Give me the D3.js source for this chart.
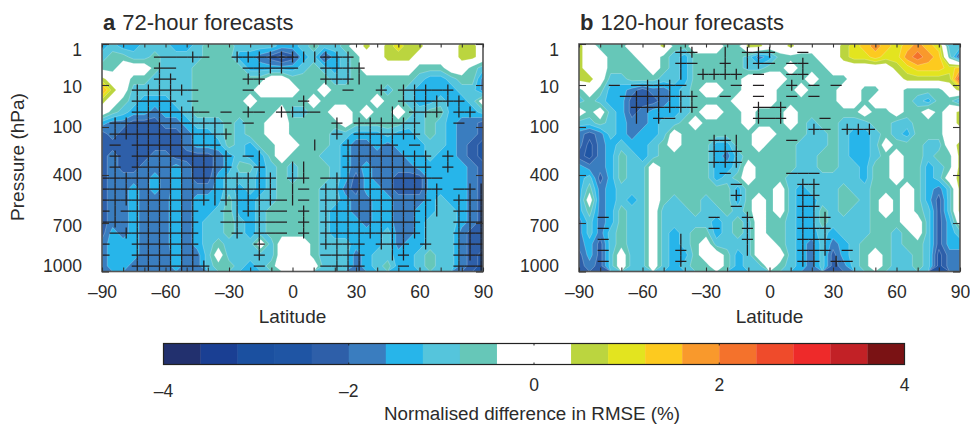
<!DOCTYPE html>
<html>
<head>
<meta charset="utf-8">
<script src="https://cdn.jsdelivr.net/npm/d3@7"></script>
<style>
html,body{margin:0;padding:0;background:#fff}
svg{display:block}
text{font-family:"Liberation Sans",Arial,sans-serif;fill:#2b2b2b}
</style>
</head>
<body>
<svg id="c" width="970" height="426"></svg>
<script>
// Normalised difference in RMSE (%), one row per model level (top to bottom), one value per 5 degrees latitude.
const rmse72 = [
[-1.4,-1,-1.4,-1.4,-1,-1,-1,-1.4,-1.4,-1,-.6,-.6,-.6,-1,-1,-1,-1,-1.4,-1.4,-1,-.6,-1,-1,-.6,0,.6,0,.6,1,.6,.6,0,0,0,.6,.6,0],
[-1,-.6,-.6,-1,-1,-.6,-1,-1,-1,-1,-.6,-.6,-.6,-1.4,-1.4,-1.8,-2.2,-2.6,-2.2,-1.4,-1,-2.2,-1.4,-1,-.6,0,0,.6,.6,.6,0,0,0,0,.6,.6,0],
[-.6,-.6,0,0,0,-.6,-1,-1,-1,-.6,-.6,-.6,-.6,-.6,-1.4,-1.4,-1.4,-1.4,-1.4,-1,-.6,-1,-1.4,-1,-.6,0,0,0,0,0,-.6,-.6,-.6,0,0,-.6,-1],
[.6,0,0,-.6,-.6,-1,-1,-1,-1,-.6,-.6,-.6,-.6,-.6,-.6,-.6,0,0,-.6,-.6,-.6,-.6,-1,-1,-.6,-.6,-.6,-.6,-.6,-.6,-1,-1.4,-1.4,-1,-.6,-.6,-1.8],
[1.8,.6,0,-1,-1,-1,-1,-1,-1,-.6,-.6,-.6,-.6,-.6,-.6,0,0,0,0,-.6,-.6,0,-.6,-.6,-.6,-.6,-.6,-1,-.6,-1,-1.4,-1.4,-1.4,-1.4,-1,-1,-1.8],
[.6,0,-.6,-1,-1.4,-1.4,-1.4,-1,-1,-.6,-.6,-.6,-.6,-.6,0,-.6,-.6,-.6,-.6,-.6,0,-.6,-.6,-.6,-.6,-.6,0,-.6,-.6,-1,-1.4,-1.4,-1,-1.4,-1.4,-1,0],
[0,-.6,-1,-1.4,-1.4,-1.8,-1.4,-1.4,-1,-.6,-.6,-.6,-.6,-.6,-.6,-.6,-.6,0,-1,-1,-.6,-.6,0,0,-.6,0,-.6,-.6,0,-.6,-1,-.6,-.6,-1.4,-1.4,-1.4,-1],
[-1.4,-1.8,-1.8,-2.2,-2.2,-2.2,-1.8,-1.8,-1.4,-1,-1,-1,-.6,-1,-.6,-.6,0,0,-.6,-.6,-.6,-.6,-.6,0,-.6,-.6,-.6,-.6,-.6,-1,-1,-.6,-1,-1.4,-1.8,-1.8,-2.2],
[-2.2,-1.8,-2.2,-2.2,-2.2,-2.2,-2.2,-2.2,-1.8,-1.4,-1.4,-1,-.6,-1,-.6,-.6,0,0,-.6,-.6,-.6,-.6,-1,-1,-1.4,-1.4,-1.4,-1,-1.4,-1.4,-1,-.6,-1,-1.4,-1.8,-1.8,-2.2],
[-2.2,-2.2,-2.2,-2.2,-2.2,-2.2,-2.2,-2.2,-1.8,-1.4,-1.4,-1.4,-.6,-1,-1.4,-.6,-.6,0,0,-.6,-.6,-.6,-1,-1.4,-1.8,-1.8,-1.4,-1.8,-1.4,-1.4,-1.4,-1,-1,-1.4,-1.8,-2.2,-2.6],
[-2.2,-1.8,-2.2,-2.2,-2.2,-1.8,-1.8,-2.2,-2.2,-2.2,-2.2,-1.8,-1.4,-1,-1.4,-1.4,-.6,0,-.6,-.6,-.6,-1,-1,-1.4,-1.8,-1.8,-1.8,-1.8,-1.8,-1.4,-1.4,-1,-1.4,-1.4,-1.8,-2.2,-2.6],
[-2.2,-1.8,-2.2,-2.2,-1.8,-1.8,-1.8,-1.4,-1.8,-2.2,-2.2,-1.8,-1.4,-.6,-.6,-1.4,-1,-.6,-1,-.6,-.6,-.6,-1,-1.4,-1.8,-1.4,-1.8,-1.8,-1.8,-1.8,-1.4,-1.4,-1.4,-1.4,-1.4,-1.8,-2.2],
[-2.2,-1.8,-1.8,-1.8,-1.8,-1.4,-1.8,-1.4,-1.8,-2.2,-2.2,-1.4,-1,-1,-1,-1.4,-1,-.6,-1,-.6,-.6,-.6,-1,-1.4,-2.2,-1.4,-1.8,-1.8,-2.2,-2.2,-2.2,-1.4,-1.4,-1.4,-1.4,-1.8,-2.2],
[-2.2,-1.8,-1.8,-1.4,-1.8,-1.4,-1.8,-1.4,-1.8,-1.8,-1.8,-1.4,-1,-1.4,-1,-1.4,-1,-.6,-.6,-.6,-.6,-1,-1,-1.8,-2.2,-1.4,-1.4,-1.8,-2.2,-2.2,-2.2,-1.4,-1.4,-1.4,-1.4,-1.8,-2.2],
[-2.2,-1.8,-1.8,-1.4,-1.8,-1.8,-1.7,-1.4,-1.8,-1.4,-1.4,-1.4,-.6,-1.4,-1.4,-1,-1,-.6,-.6,-.6,-.6,-1,-1,-1.4,-1.8,-1.8,-1.4,-1.4,-1.8,-1.8,-1.8,-1.4,-1,-1.4,-1.4,-1.8,-2.2],
[-2.2,-1.8,-1.8,-1.4,-1.8,-1.8,-1.7,-1.4,-1.8,-1.4,-1.4,-1,-.6,-1.4,-1.4,-1,-.6,-.6,-.6,-.6,-.6,-1,-1.4,-1.4,-1.8,-1.8,-1.4,-1.4,-1.8,-1.8,-1.4,-1.4,-1,-1,-1.4,-1.8,-2.2],
[-2.2,-1.8,-1.8,-1.4,-1.8,-1.8,-1.7,-1.4,-1.8,-1.4,-1,-1,-.6,-1,-1.4,-1,-.6,-.6,-.6,-.6,-.6,-1,-1.4,-1.4,-1.4,-1.8,-1.4,-1.4,-1.8,-1.8,-1.4,-1,-1,-1,-1.4,-1.8,-2.2],
[-2.2,-1.4,-1.8,-1.4,-1.8,-1.8,-1.7,-1.4,-1.8,-1.4,-1,-1,-.6,-1,-1.4,-1,-.6,-.6,-.6,-.6,-.6,-1,-1.4,-1.4,-1.4,-1.4,-1.4,-1,-1.8,-1.8,-1.4,-1,-1,-1,-1.8,-2.2,-2.2],
[-1.8,-1.4,-1.4,-1.4,-1.8,-1.8,-1.7,-1.4,-1.8,-1.4,-1,-.6,-1,-1,-1,0,-1,0,0,0,-.6,-1,-1,-1,-1.4,-1.4,-1.4,-1,-1.8,-1.4,-1.4,-1,-1,-1,-1.8,-2.2,-2.2],
[-1.8,-1.4,-1.4,-1.4,-1.8,-1.8,-1.8,-1.4,-1.8,-1.8,-1,0,-1,-1,-1,-1,-1,0,0,0,-.6,-1,-1,-1,-1.8,-1.4,-1,-1,-1.4,-1.4,-1,-.6,-1,-1,-1.8,-2.2,-2.6],
[-1.8,-1.4,-1.4,-1.8,-1.8,-1.8,-1.8,-1.4,-1.8,-1.8,-1,-.6,-.6,-1,-1.4,-1,-.6,0,0,0,0,-1,-1,-1,-1.8,-1.4,-1,-.6,-1.4,-1.4,-1,-.6,-1,-1,-1.8,-2.2,-2.6]
];
const rmse120 = [
[.6,0,-.6,-.6,-.6,0,0,0,.6,-.6,-.6,0,0,0,-.6,-.6,.6,.6,0,0,.6,0,0,0,0,.6,1,1.4,1.8,1.4,1,1.4,1.8,1.4,1,-1,-1],
[.6,0,0,-.6,-.6,-.6,0,0,-.6,-1,-1.4,-.6,-.6,-.6,-.6,-.6,-1,-1.8,-1.4,-.6,-.6,-.6,-.6,0,0,.6,1,1,1.4,1,1,1.8,2.2,1.8,1.4,-.6,-2.2],
[.6,0,0,-.6,-.6,-.6,-.6,0,-.6,-1,-1.4,-.6,-.6,-.6,-.6,-.6,-1,-1,-.6,-.6,0,-.6,-.6,-.6,0,0,0,0,0,0,.6,1,1.4,1.4,1.4,1,1.4],
[.6,.6,0,-1,-1,-.6,-.6,-.6,-1,-1,-1.4,-.6,-.6,-.6,-.6,-.6,0,0,0,0,-.6,-.6,0,-.6,-.6,-.6,0,0,0,0,0,.6,.6,.6,.6,.6,2.6],
[-.6,0,-.6,-1.4,-1.4,-1.8,-2.2,-1.8,-1.8,-1.4,-1,-.6,0,0,-.6,-.6,0,0,0,-.6,-.6,0,-.6,-.6,-.6,0,0,-.6,-.6,0,0,-.6,-.6,-.6,-.6,0,.6],
[-1,-.6,-1,-1.4,-1.4,-2.2,-2.2,-2.2,-1.8,-1.4,-1,-.6,-.6,-.6,-.6,0,0,0,0,-.6,-.6,-.6,-.6,-.6,-.6,0,0,-.6,0,0,0,-.6,-1,-1.4,-.6,-.6,-1.4],
[0,-.6,0,-1,-1.4,-2.2,-1.8,-1.4,-1.4,-1.4,-1,-.6,0,0,-.6,-.6,0,-.6,-.6,-.6,0,-.6,-.6,-.6,-.6,-.6,-.6,0,-.6,-.6,0,-.6,-.6,0,-.6,0,.6],
[-1,-1,-.6,-1,-1.4,-1.8,-1.8,-1.4,-1,-1,-.6,0,-.6,-.6,-.6,-.6,0,-.6,-.6,-.6,0,-.6,-1,-.6,-.6,-1,-1,-1,-.6,-.6,-1,-1,-.6,-.6,-.6,0,.6],
[-1.8,-2.2,-1.8,-1,-1.4,-1.8,-1.4,-1.4,-1,0,-.6,-.6,-.6,-.6,-.6,-.6,-.6,0,0,-.6,-.6,-.6,-1,-1,-.6,-1,-1.4,-1.4,-1,-.6,-1,-1.4,-.6,-.6,-.6,0,0],
[-1.8,-2.6,-1.8,-1.4,-1,-1.4,-1.4,-1,-.6,0,-.6,-.6,-.6,-1.4,-1.4,-.6,-.6,0,-.6,-.6,-.6,-1,-1,-1,-.6,-1,-1.4,-1.4,-1,0,-.6,-.6,-.6,-1,-1,0,.6],
[-2.2,-2.6,-1.8,-1.4,-.6,-1,-1.4,-1,-.6,-.6,-.6,-.6,-.6,-1.4,-1.8,-1,-.6,-.6,-.6,-.6,-.6,-1,-1,-.6,-.6,-1,-1.4,-1.4,-1,-.6,0,-.6,-.6,-1,-.6,-.6,.6],
[-1.4,-1.8,-1.8,-1.4,-.6,-1,-1,0,-.6,-.6,-.6,-.6,-.6,-1.4,-1.4,-1,0,-.6,-.6,-.6,-.6,-1,-1,-.6,-.6,-1,-1,-1.4,-.6,-.6,0,-.6,-.6,-1.4,-1,-.6,.6],
[-1.4,-1,-2.2,-1.4,-.6,-1,-1,0,-.6,-.6,-.6,-.6,-.6,-1.4,-1,-.6,0,-.6,-.6,-.6,-1,-1,-1,-1,-1,-1,-1,-1.4,-.6,-.6,0,-.6,-.6,-1.4,-1,0,.6],
[-1.4,-.6,-1.8,-1.4,-1,-1,-1,0,-.6,-.6,-.6,-.6,-.6,-.6,-.6,-1.4,-.6,-.6,-.6,0,-1,-1.4,-1,-1,-1,-.6,-1,-1,-.6,-.6,-.6,0,-.6,-1.4,-1.8,-1,.6],
[-1.4,0,-1.8,-1.4,-1,-1.4,-1,0,-.6,-1,-.6,-.6,-1,-.6,-.6,-1.4,-.6,0,-.6,0,-1,-1.4,-1.4,-1,-1,-.6,-.6,-1,-.6,0,-.6,0,-.6,-1.4,-2.2,-1,.6],
[-1.4,-.6,-1.8,-1.4,-.6,-1,-1,0,-1,-1,-1,-.6,-1,-1,-.6,-1,-.6,0,-.6,0,-1,-1.4,-1.4,-.6,-1,-.6,-1,-1,-.6,0,-.6,0,-.6,-1,-2.2,-1,.6],
[-1.8,-1,-1.8,-1.4,-.6,-1,-1,0,-1,-1,-1,-1,-1,-1.4,-1,-.6,-1,0,-.6,-.6,-1,-1.4,-1.4,-.6,-1,-1,-1,-1,-.6,-.6,-.6,0,0,-1,-2.2,-1.4,0],
[-1.8,-1,-1.8,-1,-.6,-1,-1,0,-1,-1.4,-1,-.6,-.6,-1.4,-1,-.6,-1,0,-.6,-.6,-1,-1.4,-1.4,-1,-1.4,-1,-1,-1,-.6,-.6,-1,-.6,0,-1,-2.2,-1.4,-1],
[-1.8,-1.4,-2.2,-1,-.6,-1,-1,0,-1,-1.4,-1,-.6,0,-1,-1,-1,-1,0,0,-.6,-1,-1.4,-1.8,-1,-1.8,-1.4,-1,-.6,-.6,-.6,-1,-.6,-.6,-1,-2.2,-1.4,-1.4],
[-2.2,-1.4,-2.2,-1,0,-1,-1,0,-1,-1.4,-1.4,-.6,0,0,-.6,-1.4,-1,0,0,0,-1,-1.4,-1.8,-1,-2.2,-1.4,-1,-.6,0,-.6,-1,-1,-.6,-1,-2.6,-1.8,-1.8],
[-2.2,-1.8,-2.2,-1,0,-1,-1,0,-1,-1.4,-1,-.6,-.6,0,-.6,-1.4,-1,-1,0,-.6,-1,-1.4,-1.8,-1,-2.2,-1.8,-1,-.6,0,-.6,-1,-1,-.6,-1,-2.6,-1.8,-1.8]
];
// Significance hatching: + cross, - horizontal only, | vertical only, . none
const hatch72 = [
"...................................",
".....---+-..++++++||+++............",
".....+-......-+++-..++++...........",
".....++......++.....+++|...........",
"...+++++-....-........-..+.+++-+...",
"...++++.-.........+........++++++..",
"...++++++-.-.+-.+++-......|.+++.++.",
".++++++++++-.-.......+.++++++...-..",
".+++++++++++.........+.++++++......",
".-.++++++++........|..+++++.-......",
".+.+++++++++.-|.......++++++++.+...",
".+.+++++++++..+..||...++++++++.+...",
"-+++++++++++++++.++.-+++++++++-....",
"-+++++++++++++++.|-.+++++++++++.-+|",
"-+++++++++|+++++-|-.++++++++++|.+++",
"-|-++++++..-|++--.+.+++++++++||.+++",
"-+-++++++..-+-+--.+.+++++++++|..+++",
".-+++++++...+.+--.+.+++++++++|..+++",
"-..++++++.....+.....++++.+++.+..+++",
"-..++++++.....+.....-+++..|+....+++",
"...+++++++....-.....-+++...-....+-+"
];
const hatch120 = [
".........++..|.+++..-..............",
".........+-..+.|+-.-+..............",
".........|.++++.-..-+..............",
"...-.-+++-....-.-..+.-.-...........",
"....-++++++..-..-..-.-.............",
".....++++++.....+-+................",
".....|.+-.......+-+...-............",
".....................+-.+++........",
"............++|....-...............",
"............+++....................",
"............+++....................",
".............-.....---.............",
"..............-.....++.............",
"..............+.....++.............",
"..............-.....++.............",
"..-.........-..+....+++............",
"..-.........-..+....+++............",
"..-......|.....+....+++............",
"..-......+.....|....+++.-..........",
"..-......+..........++.+-.........."
];
const latTicks = [-90,-80,-70,-60,-50,-40,-30,-20,-10,0,10,20,30,40,50,60,70,80,90];
const latLabels = [-90,-60,-30,0,30,60,90];
const pressureTicks = [1,10,100,400,700,1000];
const barEdges = [-4,-3.6,-3.2,-2.8,-2.4,-2,-1.6,-1.2,-.8,-.4,0,.4,.8,1.2,1.6,2,2.4,2.8,3.2,3.6];
const barColors = ["#22306e","#1a3f93","#1b50a0","#1f55a4","#2e5fa9","#3a7dbf","#27b5ea","#55c5dc","#66c7b8","#ffffff","#ffffff","#bbd53f","#e3e41f","#fdca1f","#f9992c","#f4722c","#ef4b2b","#ee2a2a","#c22126","#7a1214"];
const barLabels = [-4,-2,0,2,4];

[rmse72,rmse120].forEach(m=>m.forEach((r,i)=>{ if(r.length!==37) throw new Error("row "+i+" has "+r.length); }));

const svg = d3.select("#c");
const ink = "#2b2b2b";
const fmt = v => v < 0 ? "\u2013" + Math.abs(v) : String(v);
const yP = d3.scaleLinear().domain(pressureTicks).range([44,85,127,175,223,271.5]);
const yRow = d3.scaleLinear().domain([0,20]).range([46,266]);
const labelY = [50,87,127,175,226,266];
const contours = d3.contours().size([37,21]).smooth(true);

function panel(p, idx){
  const x = d3.scaleLinear().domain([-90,90]).range([p.x0,p.x1]);
  const g = svg.append("g");
  const clipId = "clip"+idx;
  svg.append("clipPath").attr("id",clipId).append("rect")
     .attr("x",p.x0).attr("y",44).attr("width",p.x1-p.x0).attr("height",271.5-44);
  const proj = d3.geoTransform({point(cx,cy){
    this.stream.point(x(-90+(cx-.5)*5), yRow(cy-.5));
  }});
  const path = d3.geoPath(proj);
  const flat = p.values.flat();
  const field = g.append("g").attr("clip-path",`url(#${clipId})`);
  barEdges.forEach((t,i)=>{
    const mp = contours.contour(flat,t);
    if(!mp.coordinates.length) return;
    const decorated = i>0 && t!==0;
    field.append("path").attr("d",path(mp)).attr("fill",barColors[i])
      .attr("stroke",decorated ? "rgba(255,255,255,.4)" : "none")
      .attr("stroke-width",.6);
  });
  // hatching
  const hx = j => x(-89.05 + 5.24*j);
  const hy = r => yRow(r + p.hatchShift);
  const hs = field.append("g").attr("stroke","#231f20").attr("stroke-width",1.25);
  p.hatch.forEach((row,r)=>{
    row.split("").forEach((c,j)=>{
      if(c==="+"||c==="-") hs.append("line").attr("x1",hx(j)-5.55).attr("x2",hx(j)+5.55).attr("y1",hy(r)).attr("y2",hy(r));
      if(c==="+"||c==="|") hs.append("line").attr("x1",hx(j)).attr("x2",hx(j)).attr("y1",hy(r)-5.5).attr("y2",hy(r)+5.5);
    });
  });
  // frame
  g.append("rect").attr("x",p.x0).attr("y",44).attr("width",p.x1-p.x0).attr("height",271.5-44)
    .attr("fill","none").attr("stroke","#555").attr("stroke-width",1.6);
  const axisStyle = a => { a.select(".domain").remove(); a.selectAll("line").attr("stroke","#333").attr("stroke-width",1.1); };
  g.append("g").attr("transform","translate(0,271.5)")
    .call(d3.axisBottom(x).tickValues(latTicks).tickSizeInner(-4).tickSizeOuter(0)
      .tickFormat(d=>latLabels.includes(d)?fmt(d):"").tickPadding(14))
    .call(axisStyle)
    .call(a=>a.selectAll("text").attr("font-family","Liberation Sans").attr("font-size",17.5).attr("fill",ink));
  g.append("g").attr("transform","translate(0,44)")
    .call(d3.axisTop(x).tickValues(latTicks).tickSizeInner(-3.5).tickSizeOuter(0).tickFormat(""))
    .call(axisStyle);
  g.append("g").attr("transform",`translate(${p.x0},0)`)
    .call(d3.axisLeft(yP).tickValues(pressureTicks).tickSizeInner(-7).tickSizeOuter(0).tickFormat(""))
    .call(axisStyle);
  g.append("g").attr("transform",`translate(${p.x1},0)`)
    .call(d3.axisRight(yP).tickValues(pressureTicks).tickSizeInner(-7).tickSizeOuter(0).tickFormat(""))
    .call(axisStyle);
  g.selectAll("text.yl").data(pressureTicks).join("text").attr("class","yl")
    .attr("x",p.x0-20).attr("y",(d,i)=>labelY[i]).attr("dy","0.36em")
    .attr("text-anchor","end").attr("font-size",17.5).text(d=>d);
  g.append("text").attr("x",(p.x0+p.x1)/2).attr("y",323).attr("text-anchor","middle")
    .attr("font-size",19).text("Latitude");
  const t = g.append("text").attr("x",p.x0+1).attr("y",30).attr("font-size",22);
  t.append("tspan").attr("font-weight","bold").attr("font-size",22).text(p.tag);
  t.append("tspan").attr("dx",7).text(p.title);
}

[
 {x0:102,x1:483,values:rmse72,hatch:hatch72,hatchShift:0,tag:"a",title:"72-hour forecasts"},
 {x0:579,x1:960,values:rmse120,hatch:hatch120,hatchShift:.57,tag:"b",title:"120-hour forecasts"}
].forEach(panel);

svg.append("text").attr("transform","translate(24,157) rotate(-90)").attr("text-anchor","middle")
  .attr("font-size",19).text("Pressure (hPa)");

// colour bar
const cb = d3.scaleLinear().domain([-4,4]).range([163.5,904.5]);
const bar = svg.append("g");
bar.selectAll("rect.b").data(barEdges).join("rect").attr("class","b")
  .attr("x",d=>cb(d)).attr("y",343.5).attr("height",21)
  .attr("width",d=>cb(d+.4)-cb(d)+.3).attr("fill",(d,i)=>barColors[i]);
bar.append("rect").attr("x",cb(-4)).attr("y",343.5).attr("width",cb(4)-cb(-4)).attr("height",21)
  .attr("fill","none").attr("stroke","#222").attr("stroke-width",1.2);
bar.selectAll("line.l1").data(barLabels).join("line").attr("class","l1")
  .attr("x1",cb).attr("x2",cb).attr("y1",343.5).attr("y2",345.5).attr("stroke","#222");
bar.selectAll("line.l2").data(barLabels).join("line").attr("class","l2")
  .attr("x1",cb).attr("x2",cb).attr("y1",364.5).attr("y2",362.5).attr("stroke","#222");
svg.selectAll("text.cb").data(barLabels).join("text").attr("class","cb")
  .attr("x",d=>cb(d)).attr("y",d=>d<0?391:385).attr("dy","0.36em")
  .attr("text-anchor","middle").attr("font-size",17.5).text(fmt);
svg.append("text").attr("x",532).attr("y",420).attr("text-anchor","middle")
  .attr("font-size",18.8).text("Normalised difference in RMSE (%)");
</script>
</body>
</html>
